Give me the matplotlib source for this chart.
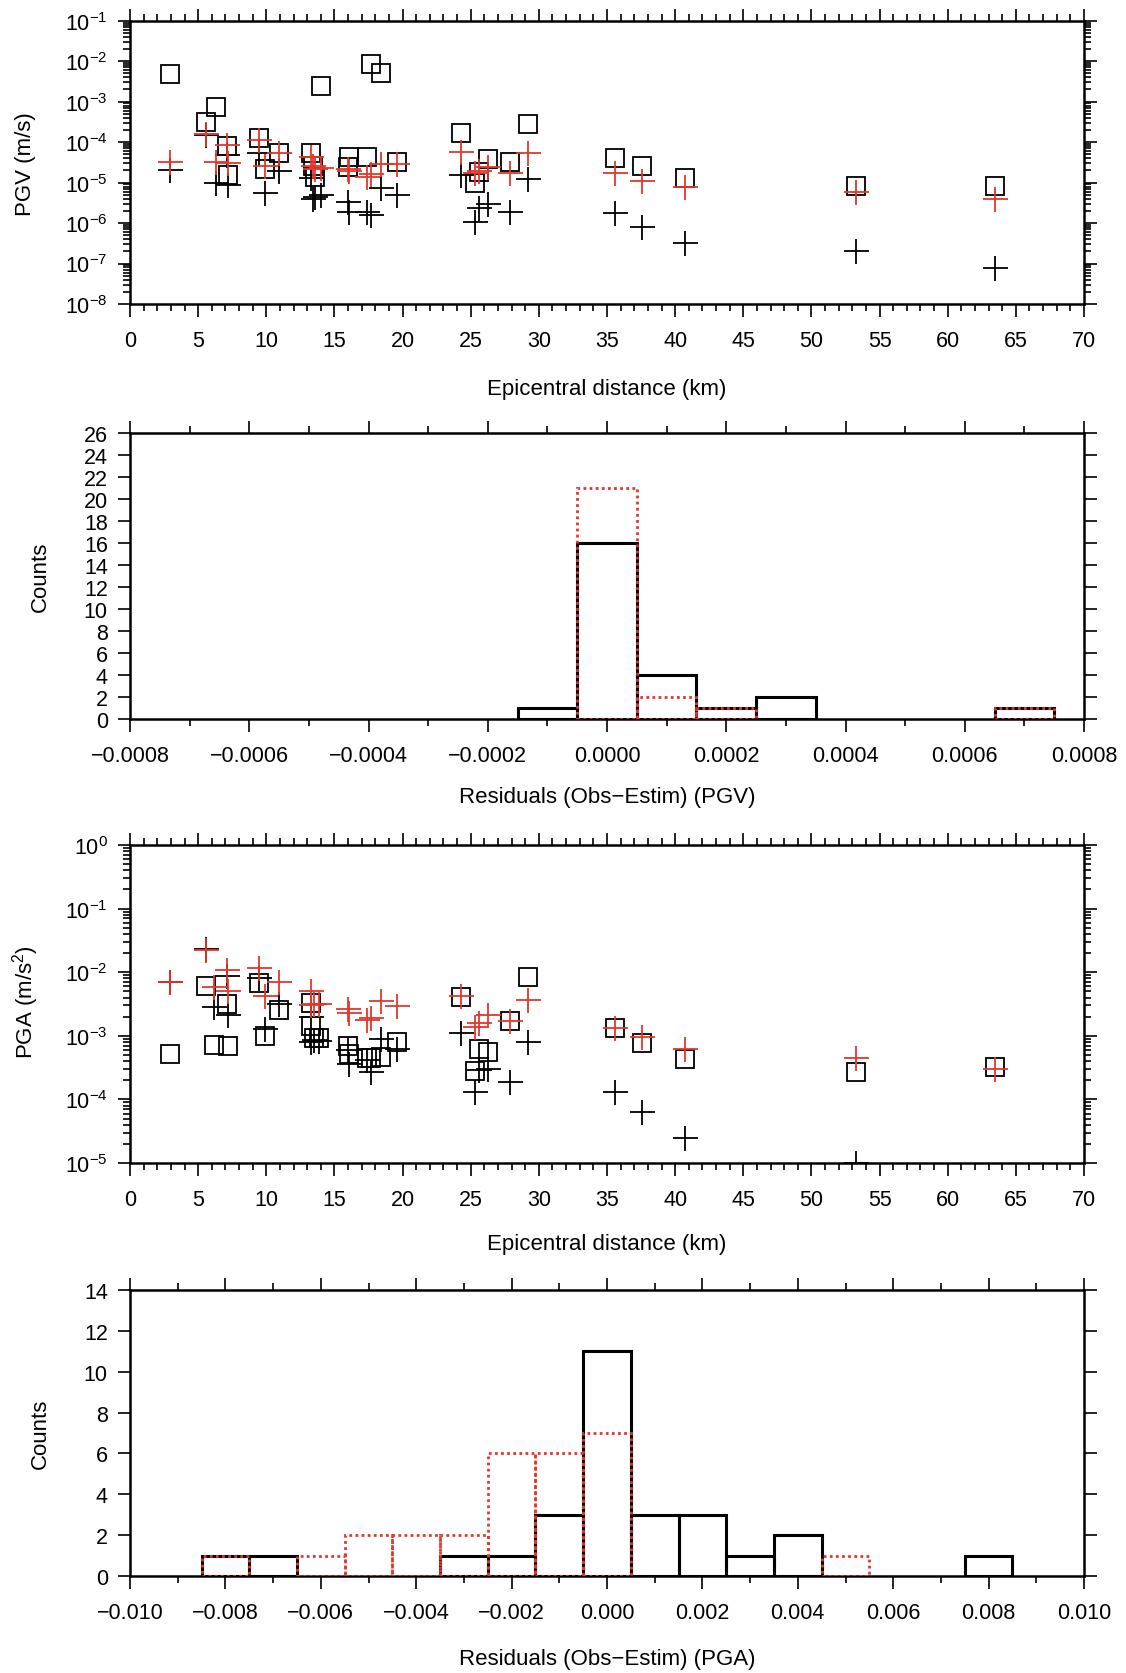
import matplotlib
matplotlib.use("Agg")
import matplotlib.pyplot as plt
from matplotlib.ticker import MultipleLocator, LogLocator, NullFormatter, FuncFormatter
import numpy as np

plt.rcParams['font.family'] = ['Liberation Sans', 'DejaVu Sans']
plt.rcParams['mathtext.fontset'] = 'custom'
plt.rcParams['mathtext.rm'] = 'Liberation Sans'
plt.rcParams['mathtext.it'] = 'Liberation Sans:italic'

RED = '#e2372c'

# ---- PGV: epicentral distance (km), observed (squares), two estimates (crosses)
pgv_dist = [2.9, 5.6, 6.3, 7.1, 7.2, 9.5, 9.9, 10.9, 13.3, 13.4, 13.6, 14.0, 16.0, 16.1,
            17.4, 17.7, 18.4, 19.6, 24.3, 25.3, 25.6, 26.3, 27.9, 29.2, 35.6, 37.6, 40.7,
            53.3, 63.5]
pgv_obs = [4.8e-3, 3.1e-4, 7.2e-4, 8.2e-5, 1.5e-5, 1.3e-4, 2.2e-5, 5.4e-5, 5.4e-5, 2.6e-5,
           1.35e-5, 2.4e-3, 2.4e-5, 4.3e-5, 4.3e-5, 8.5e-3, 5.1e-3, 3.3e-5, 1.7e-4, 1.0e-5,
           1.8e-5, 3.9e-5, 3.2e-5, 2.8e-4, 4.1e-5, 2.5e-5, 1.3e-5, 8.1e-6, 8.1e-6]
pgv_est_black = [2.1e-5, 1.5e-4, 1.0e-5, 4.8e-5, 8.5e-6, 5.4e-5, 5.6e-6, 1.9e-5, 1.3e-5,
                 4.0e-6, 4.4e-6, 4.9e-6, 3.3e-6, 1.9e-6, 1.9e-6, 1.55e-6, 7.2e-6, 5.0e-6,
                 1.5e-5, 1.05e-6, 2.3e-6, 3.0e-6, 1.9e-6, 1.2e-5, 1.75e-6, 8.0e-7, 3.3e-7,
                 2.0e-7, 7.8e-8]
pgv_est_red = [3.3e-5, 1.6e-4, 3.2e-5, 8.3e-5, 3.0e-5, 1.1e-4, 2.6e-5, 5.4e-5, 4.3e-5,
               2.5e-5, 2.2e-5, 2.3e-5, 2.2e-5, 1.9e-5, 1.35e-5, 1.6e-5, 2.9e-5, 2.9e-5,
               5.6e-5, 1.7e-5, 1.9e-5, 2.4e-5, 1.7e-5, 5.4e-5, 1.7e-5, 1.1e-5, 7.7e-6,
               6.0e-6, 4.0e-6]

# ---- PGA
pga_dist = [2.9, 5.6, 6.2, 7.1, 7.2, 9.5, 9.9, 10.9, 13.3, 13.3, 13.5, 13.9, 16.0, 16.1,
            17.4, 17.7, 18.4, 19.6, 24.3, 25.3, 25.6, 26.3, 27.9, 29.2, 35.6, 37.6, 40.7,
            53.3, 63.5]
pga_obs = [5.2e-4, 6.0e-3, 7.2e-4, 3.2e-3, 6.8e-4, 6.7e-3, 9.8e-4, 2.5e-3, 3.3e-3, 1.45e-3,
           9.1e-4, 9.1e-4, 6.9e-4, 5.2e-4, 4.4e-4, 4.5e-4, 4.6e-4, 7.9e-4, 4.1e-3, 2.8e-4,
           6.2e-4, 5.5e-4, 1.7e-3, 8.3e-3, 1.35e-3, 7.6e-4, 4.3e-4, 2.7e-4, 3.2e-4]
pga_est_black = [7.0e-3, 2.3e-2, 2.8e-3, 8.6e-3, 2.1e-3, 8.0e-3, 1.3e-3, 3.2e-3, 2.0e-3,
                 7.9e-4, 8.5e-4, 8.2e-4, 5.9e-4, 3.6e-4, 4.1e-4, 2.7e-4, 8.9e-4, 6.2e-4,
                 1.1e-3, 1.3e-4, 2.9e-4, 3.0e-4, 1.85e-4, 7.9e-4, 1.3e-4, 6.3e-5, 2.5e-5,
                 1.0e-5, 4.0e-6]
pga_est_red = [7.1e-3, 2.2e-2, 5.8e-3, 1.1e-2, 5.0e-3, 1.15e-2, 4.2e-3, 6.9e-3, 5.1e-3,
               3.0e-3, 3.2e-3, 3.2e-3, 2.6e-3, 2.3e-3, 1.8e-3, 1.9e-3, 3.5e-3, 2.9e-3,
               4.3e-3, 1.4e-3, 1.6e-3, 2.1e-3, 1.7e-3, 3.7e-3, 1.35e-3, 9.6e-4, 6.3e-4,
               4.5e-4, 3.0e-4]

# ---- residual histograms (bin centres and counts)
pgv_hist_black_x = [-0.0001, 0.0, 0.0001, 0.0002, 0.0003, 0.0007]
pgv_hist_black_n = [1, 16, 4, 1, 2, 1]
pgv_hist_red_x = [0.0, 0.0001, 0.0002, 0.0007]
pgv_hist_red_n = [21, 2, 1, 1]

pga_hist_black_x = [-0.008, -0.007, -0.003, -0.002, -0.001, 0.0, 0.001, 0.002, 0.003, 0.004, 0.008]
pga_hist_black_n = [1, 1, 1, 1, 3, 11, 3, 3, 1, 2, 1]
pga_hist_red_x = [-0.008, -0.006, -0.005, -0.004, -0.003, -0.002, -0.001, 0.0, 0.005]
pga_hist_red_n = [1, 1, 2, 2, 2, 6, 6, 7, 1]


def style_axes(ax):
    for s in ax.spines.values():
        s.set_linewidth(1.8)
    ax.tick_params(which='both', direction='out', top=True, right=True, width=1.2,
                   labelsize=15.5)
    ax.tick_params(which='major', length=9)
    ax.tick_params(which='minor', length=5)
    ax.tick_params(axis='x', which='major', pad=10)
    ax.tick_params(axis='y', which='major', pad=7)


def scatter_panel(ax, dist, obs, est_k, est_r, ylim):
    ax.plot(dist, obs, ls='none', marker='s', ms=13.5, mfc='none', mec='k', mew=1.3)
    ax.plot(dist, est_k, ls='none', marker='+', ms=18, mec='k', mew=1.3)
    ax.plot(dist, est_r, ls='none', marker='+', ms=18, mec=RED, mew=1.3)
    ax.set_yscale('log')
    ax.set_ylim(*ylim)
    ax.set_xlim(0, 70)
    ax.xaxis.set_major_locator(MultipleLocator(5))
    ax.xaxis.set_minor_locator(MultipleLocator(1))
    ax.yaxis.set_major_locator(LogLocator(base=10, numticks=20))
    ax.yaxis.set_minor_locator(LogLocator(base=10, subs=np.arange(2, 10), numticks=20))
    ax.yaxis.set_minor_formatter(NullFormatter())
    style_axes(ax)


def hist_panel(ax, xk, nk, xr, nr, width, xlim, ymax, step, ndec):
    ax.bar(xk, nk, width=width, fill=False, edgecolor='k', linewidth=2.2, zorder=2)
    ax.bar(xr, nr, width=width, fill=False, edgecolor=RED, linewidth=2.0,
           linestyle=(0, (1, 1.2)), zorder=3)
    ax.set_xlim(*xlim)
    ax.set_ylim(0, ymax)
    ax.xaxis.set_major_locator(MultipleLocator(step))
    ax.xaxis.set_minor_locator(MultipleLocator(step / 2))
    ax.yaxis.set_major_locator(MultipleLocator(2))
    ax.xaxis.set_major_formatter(FuncFormatter(
        lambda v, p: ('{:.%df}' % ndec).format(0.0 if abs(v) < 1e-12 else v).replace('-', '\u2212')))
    style_axes(ax)


fig = plt.figure(figsize=(11.26, 16.74), dpi=100)
L, W = 130 / 1126, 954 / 1126


def rect(top, bottom):
    return [L, 1 - bottom / 1674, W, (bottom - top) / 1674]


ax1 = fig.add_axes(rect(21.7, 305))
scatter_panel(ax1, pgv_dist, pgv_obs, pgv_est_black, pgv_est_red, (1e-8, 1e-1))

ax2 = fig.add_axes(rect(434, 720))
hist_panel(ax2, pgv_hist_black_x, pgv_hist_black_n, pgv_hist_red_x, pgv_hist_red_n,
           0.0001, (-0.0008, 0.0008), 26, 0.0002, 4)

ax3 = fig.add_axes(rect(846, 1164))
scatter_panel(ax3, pga_dist, pga_obs, pga_est_black, pga_est_red, (1e-5, 1))

ax4 = fig.add_axes(rect(1291, 1577))
hist_panel(ax4, pga_hist_black_x, pga_hist_black_n, pga_hist_red_x, pga_hist_red_n,
           0.001, (-0.010, 0.010), 14, 0.002, 3)

cx = (130 + 1084) / 2 / 1126
fs = 16
fig.text(cx, 1 - 390 / 1674, 'Epicentral distance (km)', ha='center', va='center', fontsize=fs)
fig.text(cx, 1 - 798 / 1674, 'Residuals (Obs\u2212Estim) (PGV)', ha='center', va='center', fontsize=fs)
fig.text(cx, 1 - 1245 / 1674, 'Epicentral distance (km)', ha='center', va='center', fontsize=fs)
fig.text(cx, 1 - 1660 / 1674, 'Residuals (Obs\u2212Estim) (PGA)', ha='center', va='center', fontsize=fs)

fig.text(26 / 1126, 1 - 164 / 1674, 'PGV (m/s)', rotation=90, ha='center', va='center', fontsize=fs)
fig.text(40 / 1126, 1 - 577 / 1674, 'Counts', rotation=90, ha='center', va='center', fontsize=fs)
fig.text(26 / 1126, 1 - 1002 / 1674, 'PGA (m/s$^{2}$)', rotation=90, ha='center', va='center', fontsize=fs)
fig.text(40 / 1126, 1 - 1434 / 1674, 'Counts', rotation=90, ha='center', va='center', fontsize=fs)

fig.savefig('out.png', dpi=100)
